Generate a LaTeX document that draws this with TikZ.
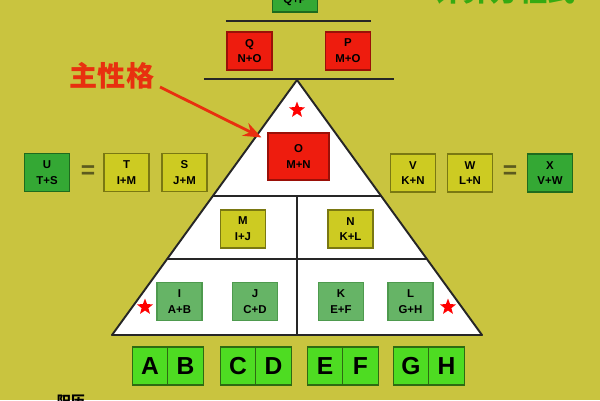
\documentclass[tikz,border=0pt]{standalone}
\usepackage{fontspec}
\setsansfont{Liberation Sans}
\newfontfamily\cjk{Noto Sans CJK SC}
\usetikzlibrary{calc,arrows.meta,shapes.geometric}
\definecolor{bg}{HTML}{C9C43F}
\definecolor{boxred}{HTML}{EE1C0E}
\definecolor{redline}{HTML}{9A1008}
\definecolor{olive}{HTML}{CDCB22}
\definecolor{oliveline}{HTML}{7A7812}
\definecolor{midgreen}{HTML}{66B466}
\definecolor{midline}{HTML}{4E9A4E}
\definecolor{dkgreen}{HTML}{34A834}
\definecolor{dkline}{HTML}{1E6A1E}
\definecolor{ltgreen}{HTML}{4EDC22}
\definecolor{ltline}{HTML}{2E6A12}
\definecolor{labred}{HTML}{E8300F}
\definecolor{labgreen}{HTML}{36AA12}
\definecolor{eqcol}{HTML}{5C5A1E}
\tikzset{
  box/.style={line width=0.6pt, minimum width=0.9cm, minimum height=0.76cm, inner sep=0pt,
    align=center, font=\fontsize{6.5}{9}\selectfont\sffamily\bfseries},
  redbox/.style={box, fill=boxred, draw=redline},
  olivebox/.style={box, fill=olive, draw=oliveline},
  midbox/.style={box, fill=midgreen, draw=midline},
  dkbox/.style={box, fill=dkgreen, draw=dkline},
  letterbox/.style={box, fill=ltgreen, draw=ltline, minimum width=0.71cm,
    font=\fontsize{14}{14}\selectfont\sffamily\bfseries},
  bar/.style={draw=black!85, line width=1.1pt},
  tri/.style={draw=black!85, fill=white, line width=1.1pt, line join=round},
  divline/.style={draw=black!85, line width=1pt},
  redstar/.style={star, star points=5, star point ratio=2.4, fill=red, inner sep=0pt, minimum size=0.34cm},
  eq/.style={text=eqcol, font=\fontsize{14}{14}\selectfont\sffamily\bfseries},
}
\begin{document}
\begin{tikzpicture}[x=0.02cm, y=-0.02cm]
  \useasboundingbox (0,0) rectangle (600,400);
  \fill[bg] (0,0) rectangle (600,400);

  % top part, cut off by the page
  \node[dkbox] (QP) at (295,-7) {\phantom{R}\\Q+P};
  \node[text=labgreen, font=\fontsize{16}{16}\selectfont\cjk\bfseries] (title) at (505,-9) {计算方程式};
  \coordinate (bar1l) at (226,21);
  \coordinate (bar1r) at (371,21);
  \draw[bar] (bar1l) -- (bar1r);
  \node[redbox] (Q) at (249.5,51) {Q\\N+O};
  \node[redbox] (P) at (348,51) {P\\M+O};
  \coordinate (bar2l) at (204,79);
  \coordinate (bar2r) at (394,79);
  \draw[bar] (bar2l) -- (bar2r);

  % triangle
  \coordinate (apex) at (297,80);
  \coordinate (bl) at (112,335);
  \coordinate (br) at (482,335);
  \draw[tri] (apex) -- (br) -- (bl) -- cycle;
  \coordinate (l1) at ($(apex)!0.455!(bl)$);
  \coordinate (r1) at ($(apex)!0.455!(br)$);
  \coordinate (l2) at ($(apex)!0.702!(bl)$);
  \coordinate (r2) at ($(apex)!0.702!(br)$);
  \coordinate (m1) at (297,196);
  \coordinate (m2) at (297,259);
  \coordinate (m3) at (297,335);
  \draw[divline] (l1) -- (r1);
  \draw[divline] (l2) -- (r2);
  \draw[divline] (m1) -- (m2) -- (m3);

  \node[redstar] (s1) at (297,110) {};
  \node[redstar] (s2) at (145,307) {};
  \node[redstar] (s3) at (448,307) {};

  \node[redbox, minimum width=1.22cm, minimum height=0.94cm] (O) at (298.5,156.5) {O\\M+N};
  \node[olivebox] (M) at (243,229) {M\\I+J};
  \node[olivebox] (N) at (350.5,229) {N\\K+L};
  \node[midbox] (I) at (179.5,301.5) {I\\A+B};
  \node[midbox] (J) at (255,301.5) {J\\C+D};
  \node[midbox] (K) at (341,301.5) {K\\E+F};
  \node[midbox] (L) at (410.5,301.5) {L\\G+H};

  % side rows
  \node[dkbox] (U) at (47,172.5) {U\\T+S};
  \node[eq] (eqL) at (88,172) {=};
  \node[olivebox] (T) at (126.5,172.5) {T\\I+M};
  \node[olivebox] (S) at (184.5,172.5) {S\\J+M};
  \node[olivebox] (V) at (413,173) {V\\K+N};
  \node[olivebox] (W) at (470,173) {W\\L+N};
  \node[eq] (eqR) at (510,172) {=};
  \node[dkbox] (X) at (550,173) {X\\V+W};

  % bottom letters
  \foreach \ltr/\xx in {A/150,B/185.5,C/238,D/273.5,E/325,F/360.5,G/411,H/446.5}
    \node[letterbox] (\ltr) at (\xx,366) {\ltr};

  % label and arrow
  \node[text=labred, font=\fontsize{16}{16}\selectfont\cjk\bfseries] (lbl) at (112,76) {主性格};
  \coordinate (tail) at (160,87);
  \draw[draw=labred, line width=1.6pt, -{Stealth[length=3.6mm, width=2.8mm]}]
    (tail) -- ($(O.north west)+(-6,5)$);

  \node[font=\fontsize{8}{8}\selectfont\cjk\bfseries] (foot) at (71,401) {阳历};
\end{tikzpicture}
\end{document}
